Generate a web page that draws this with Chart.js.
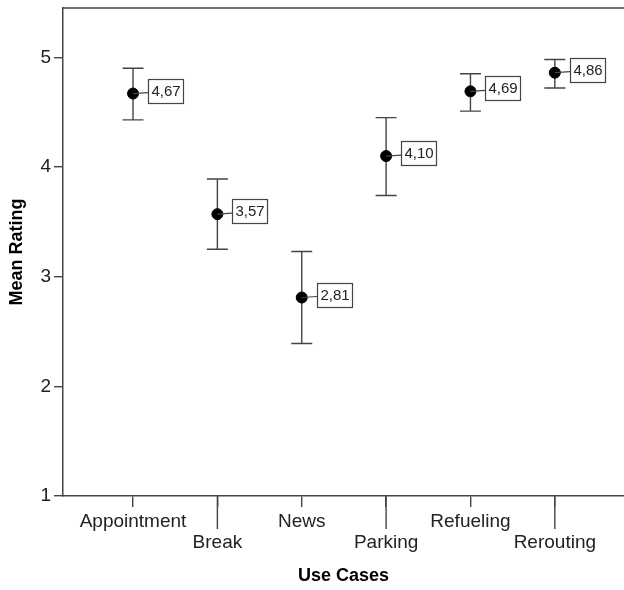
<!DOCTYPE html>
<html>
<head>
<meta charset="utf-8">
<script src="https://cdn.jsdelivr.net/npm/chart.js@4"></script>
<style>
  html, body { margin: 0; padding: 0; background: #fff; }
  #chart { display: block; }
</style>
</head>
<body>
<canvas id="chart" width="624" height="590"></canvas>
<script>
    // data
    const useCases = ['Appointment', 'Break', 'News', 'Parking', 'Refueling', 'Rerouting'];
    const meanRating = [4.67, 3.57, 2.81, 4.10, 4.69, 4.86];
    const errLow = [4.43, 3.25, 2.39, 3.74, 4.51, 4.72];
    const errHigh = [4.90, 3.89, 3.23, 4.45, 4.85, 4.98];
    const yTicks = [1, 2, 3, 4, 5];

    const lineColor = '#444';
    const textColor = '#222';
    const fontFamily = '"Liberation Sans", Arial, sans-serif';

    const points = meanRating.map(function (v, i) { return { x: i, y: v }; });

    const errorBarsPlugin = {
        id: 'errorBars',
        beforeDatasetsDraw: function (chart) {
            var ctx = chart.ctx;
            var xs = chart.scales.x, ys = chart.scales.y;
            ctx.save();
            ctx.strokeStyle = lineColor;
            ctx.lineWidth = 1.4;
            for (var i = 0; i < meanRating.length; i++) {
                var px = xs.getPixelForValue(i);
                var top = ys.getPixelForValue(errHigh[i]);
                var bot = ys.getPixelForValue(errLow[i]);
                ctx.beginPath();
                ctx.moveTo(px, top); ctx.lineTo(px, bot);
                ctx.moveTo(px - 10.5, top); ctx.lineTo(px + 10.5, top);
                ctx.moveTo(px - 10.5, bot); ctx.lineTo(px + 10.5, bot);
                ctx.stroke();
            }
            ctx.restore();
        },
        afterDatasetsDraw: function (chart) {
            var ctx = chart.ctx;
            var xs = chart.scales.x, ys = chart.scales.y;
            ctx.save();
            ctx.font = '15px ' + fontFamily;
            ctx.textBaseline = 'middle';
            ctx.textAlign = 'left';
            for (var i = 0; i < meanRating.length; i++) {
                var px = xs.getPixelForValue(i);
                var py = ys.getPixelForValue(meanRating[i]);
                var txt = meanRating[i].toFixed(2).replace('.', ',');
                var w = Math.round(ctx.measureText(txt).width) + 6;
                var bx = Math.round(px + 15), by = Math.round(py - 15);
                ctx.strokeStyle = lineColor;
                ctx.lineWidth = 1.2;
                ctx.beginPath();
                ctx.moveTo(px, py); ctx.lineTo(bx, py - 1);
                ctx.stroke();
                ctx.fillStyle = '#fff';
                ctx.fillRect(bx, by, w, 24);
                ctx.strokeRect(bx + 0.5, by + 0.5, w, 24);
                ctx.fillStyle = textColor;
                ctx.fillText(txt, bx + 3.5, by + 13);
            }
            ctx.restore();
        },
        afterDraw: function (chart) {
            var ctx = chart.ctx;
            var a = chart.chartArea;
            var xs = chart.scales.x;
            ctx.save();
            ctx.strokeStyle = lineColor;
            ctx.lineWidth = 1.5;
            // top frame line
            ctx.beginPath();
            ctx.moveTo(a.left, a.top); ctx.lineTo(a.right, a.top);
            ctx.stroke();
            // longer ticks for the second label row
            ctx.lineWidth = 1.4;
            for (var i = 1; i < useCases.length; i += 2) {
                var px = xs.getPixelForValue(i);
                ctx.beginPath();
                ctx.moveTo(px, a.bottom); ctx.lineTo(px, a.bottom + 33);
                ctx.stroke();
            }
            ctx.restore();
        }
    };

    new Chart(document.getElementById('chart'), {
        type: 'scatter',
        data: {
            datasets: [{
                label: 'Mean Rating',
                data: points,
                backgroundColor: '#000',
                borderColor: '#000',
                pointRadius: 5.5,
                pointHoverRadius: 5.5,
                showLine: false
            }]
        },
        plugins: [errorBarsPlugin],
        options: {
            responsive: false,
            animation: false,
            events: [],
            layout: { autoPadding: false, padding: { top: 8, right: 0, left: 0, bottom: 0 } },
            plugins: {
                legend: { display: false },
                tooltip: { enabled: false }
            },
            scales: {
                x: {
                    type: 'linear',
                    min: -0.83,
                    max: 5.82,
                    afterBuildTicks: function (scale) {
                        scale.ticks = useCases.map(function (c, i) { return { value: i }; });
                    },
                    afterFit: function (scale) {
                        scale.height = 94;
                        scale.paddingLeft = 0;
                        scale.paddingRight = 0;
                    },
                    grid: { drawOnChartArea: false, tickLength: 11, color: lineColor, lineWidth: 1.4 },
                    border: { color: lineColor, width: 1.5 },
                    ticks: {
                        autoSkip: false,
                        maxRotation: 0,
                        padding: 4,
                        color: textColor,
                        font: { family: fontFamily, size: 19, lineHeight: 1.1 },
                        callback: function (value) {
                            var label = useCases[value];
                            return value % 2 === 1 ? ['', label] : label;
                        }
                    },
                    title: {
                        display: true,
                        text: 'Use Cases',
                        color: '#000',
                        font: { family: fontFamily, size: 18, weight: 'bold' },
                        padding: { top: 4, bottom: 3 }
                    }
                },
                y: {
                    min: 1,
                    max: 5.45,
                    afterBuildTicks: function (scale) {
                        scale.ticks = yTicks.map(function (v) { return { value: v }; });
                    },
                    afterFit: function (scale) {
                        scale.width = 63;
                        scale.paddingTop = 0;
                        scale.paddingBottom = 0;
                    },
                    grid: { drawOnChartArea: false, tickLength: 9, color: lineColor, lineWidth: 1.4 },
                    border: { color: lineColor, width: 1.5 },
                    ticks: {
                        padding: 3,
                        color: textColor,
                        font: { family: fontFamily, size: 19 }
                    },
                    title: {
                        display: true,
                        text: 'Mean Rating',
                        color: '#000',
                        font: { family: fontFamily, size: 18, weight: 'bold' },
                        padding: { top: 6, bottom: 4 }
                    }
                }
            }
        }
    });
</script>
</body>
</html>
